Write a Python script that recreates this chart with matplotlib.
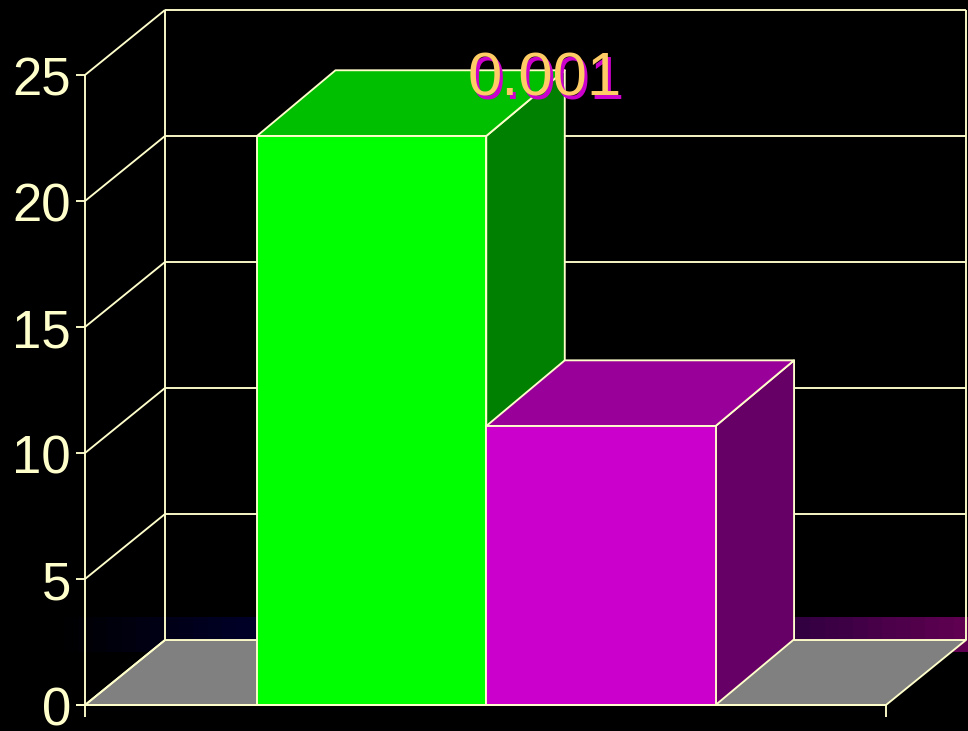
import numpy as np
import matplotlib
matplotlib.use('Agg')
import matplotlib.pyplot as plt
from matplotlib.colors import LinearSegmentedColormap
from matplotlib.patches import Polygon

plt.rcParams['font.family'] = ['Liberation Sans', 'DejaVu Sans']

values = [22.58, 11.07]
front_colors = ['#00FF00', '#CC00CC']
top_colors = ['#00BF00', '#990099']
side_colors = ['#008000', '#660066']
y_ticks = [0, 5, 10, 15, 20, 25]
label_text = '0.001'

line_color = '#FFFFCC'
lw = 1.35

# одна единица x = ширина столбца, y = значение
px_x = 229.3
px_y = 25.2
depth_x = 80 / px_x
depth_y = 65 / px_y
bar_depth_x = 78.5 / px_x
bar_depth_y = 65.7 / px_y
x_left = 85 / px_x
x_end = x_left + 801 / px_x
bar_start = 0.75

fig = plt.figure(figsize=(9.68, 7.31), dpi=100, facecolor='black')
ax = fig.add_axes([0, 0, 1, 1])
ax.set_facecolor('black')


def poly(points, face, z, edge=line_color):
    xs = [x_left + p[0] for p in points]
    ys = [p[1] for p in points]
    ax.add_patch(Polygon(list(zip(xs, ys)), closed=True, facecolor=face,
                         edgecolor=edge, linewidth=lw, zorder=z, joinstyle='round'))


def line(xs, ys, z=2):
    ax.plot([x_left + v for v in xs], ys, color=line_color, lw=lw, zorder=z,
            solid_capstyle='butt')


span = x_end - x_left

# полоса с градиентом за полом
band = LinearSegmentedColormap.from_list(
    'band', [(0, '#000000'), (0.22, '#00002A'), (0.817, '#300040'), (1, '#600050')], N=64)
grad = np.linspace(0, 1, 256).reshape(1, -1)
ax.imshow(grad, cmap=band, aspect='auto', zorder=1,
          extent=(50 / px_x, 968 / px_x, (705 - 652.5) / px_y, (705 - 618) / px_y))

# пол
poly([(0, 0), (span, 0), (span + depth_x, depth_y), (depth_x, depth_y)], '#808080', 2)

# стенки и сетка
for t in y_ticks:
    line([0, depth_x], [t, t + depth_y])
    if t > 0:
        line([depth_x, span + depth_x], [t + depth_y, t + depth_y])
line([0, 0], [0, 25])
line([depth_x, depth_x], [depth_y, 25 + depth_y])
line([span + depth_x, span + depth_x], [depth_y, 25 + depth_y])

# столбцы
for i, v in enumerate(values):
    x0 = bar_start + i
    x1 = x0 + 1
    z = 5 + i
    poly([(x1, 0), (x1 + bar_depth_x, bar_depth_y), (x1 + bar_depth_x, v + bar_depth_y), (x1, v)], side_colors[i], z)
    poly([(x0, v), (x1, v), (x1 + bar_depth_x, v + bar_depth_y), (x0 + bar_depth_x, v + bar_depth_y)], top_colors[i], z)
    poly([(x0, 0), (x1, 0), (x1, v), (x0, v)], front_colors[i], z)

# оси и деления
line([-9 / px_x, span], [0, 0], 8)
line([0, 0], [0, -12 / px_y], 8)
line([span, span], [0, -12 / px_y], 8)
for t in y_ticks:
    line([-9 / px_x, 0], [t, t], 8)
    ax.text(x_left - 14 / px_x, t - 1.5 / px_y, str(t), color=line_color, fontsize=38,
            ha='right', va='center_baseline', zorder=9)

# подпись с тенью
label_x = 544.5 / px_x
label_y = (705 - 74) / px_y
ax.text(label_x + 3 / px_x, label_y - 3 / px_y, label_text, color='#CC00CC', fontsize=44.5,
        ha='center', va='center_baseline', zorder=10)
ax.text(label_x, label_y, label_text, color='#FFCC66', fontsize=44.5,
        ha='center', va='center_baseline', zorder=11)

ax.set_xlim(0, 968 / px_x)
ax.set_ylim(-(731 - 705) / px_y, 705 / px_y)
ax.axis('off')

fig.savefig('out.png', dpi=100, facecolor='black')
